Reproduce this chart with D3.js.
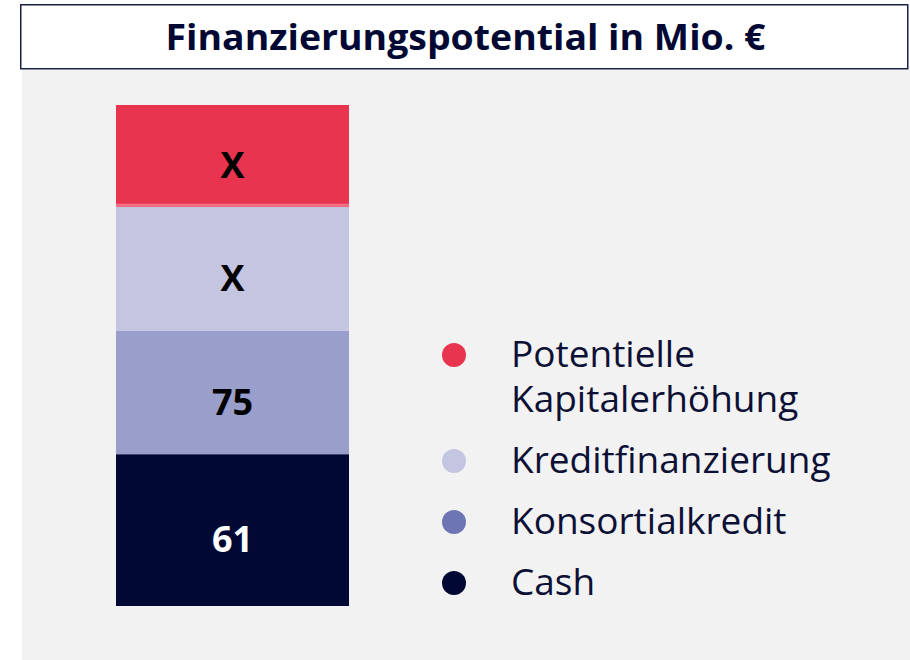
<!DOCTYPE html>
<html>
<head>
<meta charset="utf-8">
<script src="https://cdn.jsdelivr.net/npm/d3@7"></script>
<style>
  body { margin: 0; background: #fff; }
  svg { display: block; font-family: "Open Sans", sans-serif; }
</style>
</head>
<body>
<div id="chart"></div>
<script>
// segments, bottom to top
const categories = ["Cash", "Konsortialkredit", "Kreditfinanzierung", "Potentielle Kapitalerhöhung"];
const valueLabels = ["61", "75", "X", "X"];
// share of the bar height (%) as drawn in the picture, not proportional to the labels
const shares = [30.3, 24.6, 24.8, 20.3];
const barColors = ["#000833", "#9a9ecb", "#c4c5e1", "#e8344f"];
const dotColors = ["#000833", "#6e75b4", "#c4c5e1", "#e8344f"];
const labelColors = ["#ffffff", "#000000", "#000000", "#000000"];
const legendLines = [["Cash"], ["Konsortialkredit"], ["Kreditfinanzierung"], ["Potentielle", "Kapitalerhöhung"]];

const W = 910, H = 660;
const svg = d3.select("#chart").append("svg").attr("width", W).attr("height", H);

// title box
svg.append("rect").attr("x", 22).attr("y", 70).attr("width", W - 22).attr("height", H - 70).attr("fill", "#f2f2f2");
svg.append("rect").attr("x", 20.75).attr("y", 4.75).attr("width", 887).attr("height", 64)
  .attr("fill", "#fff").attr("stroke", "#1a1f48").attr("stroke-width", 1.5);
svg.append("text")
  .attr("x", 465.5).attr("y", 50)
  .attr("text-anchor", "middle")
  .attr("font-size", 36).attr("font-weight", 700).attr("fill", "#000833")
  .attr("textLength", 600).attr("lengthAdjust", "spacingAndGlyphs")
  .text("Finanzierungspotential in Mio. €");

// stacked bar
const segs = [];
let acc = 0;
shares.forEach((s, i) => { segs.push({ i, y0: acc, y1: acc + s }); acc += s; });

const y = d3.scaleLinear().domain([0, d3.sum(shares)]).range([606, 105]);
const x = d3.scaleBand().domain(["bar"]).range([116, 349]).padding(0);

const bar = svg.append("g");
bar.selectAll("rect").data(segs).join("rect")
  .attr("x", x("bar")).attr("width", x.bandwidth())
  .attr("y", d => y(d.y1)).attr("height", d => y(d.y0) - y(d.y1))
  .attr("fill", d => barColors[d.i]);

// thin light edge under the top segment
const topSeg = segs[segs.length - 1];
bar.append("rect")
  .attr("x", x("bar")).attr("width", x.bandwidth())
  .attr("y", y(topSeg.y0) - 3).attr("height", 3)
  .attr("fill", "#f27086");

bar.selectAll("text").data(segs).join("text")
  .attr("x", x("bar") + x.bandwidth() / 2)
  .attr("y", d => (y(d.y0) + y(d.y1)) / 2 + 22)
  .attr("text-anchor", "middle")
  .attr("font-size", 36).attr("font-weight", 700)
  .attr("fill", d => labelColors[d.i])
  .text(d => valueLabels[d.i]);

// legend, top to bottom
const order = d3.range(categories.length).reverse();
const lineH = 45, rowGap = 16;
let base = 367;
const legend = svg.append("g");
order.forEach(i => {
  const g = legend.append("g");
  g.append("circle").attr("cx", 454).attr("cy", base - 12).attr("r", 12).attr("fill", dotColors[i]);
  const t = g.append("text").attr("x", 511).attr("y", base)
    .attr("font-size", 37).attr("fill", "#0d1035");
  legendLines[i].forEach((ln, k) => {
    t.append("tspan").attr("x", 511).attr("dy", k === 0 ? 0 : lineH).text(ln);
  });
  base += legendLines[i].length * lineH + rowGap;
});
</script>
</body>
</html>
